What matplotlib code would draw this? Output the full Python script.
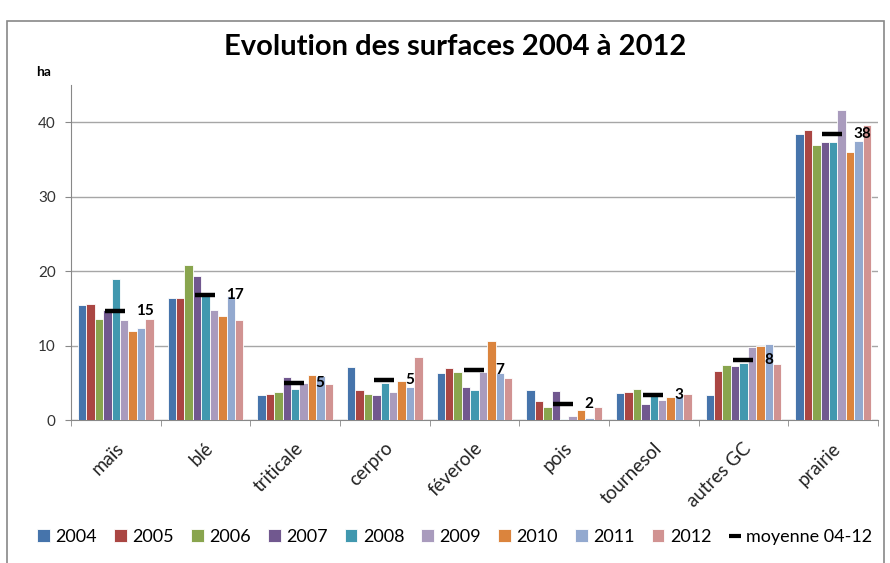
import matplotlib
matplotlib.use("Agg")
import matplotlib.pyplot as plt
import matplotlib.patches as mpatches
import matplotlib.transforms as mtransforms
from matplotlib.lines import Line2D
import numpy as np

plt.rcParams['font.family'] = ['Lato', 'DejaVu Sans']

categories = ["maïs", "blé", "triticale", "cerpro", "féverole", "pois", "tournesol", "autres GC", "prairie"]
years = ["2004", "2005", "2006", "2007", "2008", "2009", "2010", "2011", "2012"]

v2004 = [15.5, 16.4, 3.3, 7.1, 6.3, 4.0, 3.6, 3.4, 38.4]
v2005 = [15.6, 16.4, 3.5, 4.0, 7.0, 2.6, 3.7, 6.6, 38.9]
v2006 = [13.6, 20.8, 3.7, 3.5, 6.5, 1.7, 4.2, 7.4, 36.9]
v2007 = [14.8, 19.3, 5.8, 3.3, 4.4, 3.9, 2.2, 7.2, 37.4]
v2008 = [19.0, 16.7, 4.2, 5.0, 4.0, 0.2, 3.5, 7.6, 37.3]
v2009 = [13.5, 14.8, 5.0, 3.8, 6.5, 0.5, 2.7, 9.8, 41.7]
v2010 = [11.9, 14.0, 6.1, 5.3, 10.6, 1.3, 3.1, 9.9, 36.0]
v2011 = [12.4, 16.6, 5.9, 4.5, 6.3, 0.3, 3.2, 10.2, 37.5]
v2012 = [13.6, 13.5, 4.8, 8.4, 5.6, 1.7, 3.5, 7.5, 39.6]
moyenne = [14.7, 16.8, 5.0, 5.4, 6.7, 2.2, 3.4, 8.1, 38.4]

series = [v2004, v2005, v2006, v2007, v2008, v2009, v2010, v2011, v2012]
colors = ['#4674AB', '#AA4643', '#89A54E', '#71588F', '#4198AF',
          '#A99BBD', '#DB843D', '#93A9CF', '#D19392']

fig = plt.figure(figsize=(8.9, 5.63), dpi=100)
W, H = 890, 563
ax = fig.add_axes([71 / W, (H - 420) / H, 807 / W, 335 / H])

x = np.arange(len(categories))
bw = 0.094
for j, (vals, c) in enumerate(zip(series, colors)):
    ax.bar(x + (j - 4) * bw, vals, width=bw, color=c, edgecolor='white',
           linewidth=0.6, label=years[j], zorder=3)

ax.plot(x - 0.01, moyenne, linestyle='none', marker='_', markersize=15,
        markeredgewidth=3.2, color='black', zorder=5)
for xi, m in zip(x, moyenne):
    ax.text(xi + 0.23, m, f"{m:.0f}", fontsize=11, fontweight='bold',
            va='center', ha='left', zorder=6)

ax.set_xlim(-0.5, len(categories) - 0.5)
ax.set_ylim(0, 45)
ax.set_yticks([0, 10, 20, 30, 40])
ax.yaxis.grid(True, color='#A6A6A6', linewidth=1.0, zorder=0)
ax.set_axisbelow(True)
for s in ['top', 'right']:
    ax.spines[s].set_visible(False)
ax.spines['left'].set_color('#888888')
ax.spines['bottom'].set_color('#888888')
ax.tick_params(axis='y', length=4, color='#888888', labelsize=11,
               labelcolor='#333333', pad=7)

ax.set_xticks(x)
ax.set_xticklabels(categories, rotation=45, ha='right', rotation_mode='anchor',
                   fontsize=13.5, color='#222222')
ax.tick_params(axis='x', length=0, pad=14)
offset = mtransforms.ScaledTranslation(-1 / 100, 0, fig.dpi_scale_trans)
for lbl in ax.get_xticklabels():
    lbl.set_transform(lbl.get_transform() + offset)
ax.set_xticks(np.arange(-0.5, len(categories)), minor=True)
ax.tick_params(axis='x', which='minor', length=4, color='#888888')

fig.text(455 / W, 1 - 47 / H, "Evolution des surfaces 2004 à 2012",
         fontsize=21, fontweight='bold', ha='center', va='center')
fig.text(44 / W, 1 - 72 / H, "ha", fontsize=10, fontweight='bold',
         ha='center', va='center')

border = mpatches.Rectangle((7 / W, -0.1), 877 / W, 0.1 + (H - 21) / H,
                            transform=fig.transFigure, fill=False,
                            edgecolor='#888888', linewidth=1.2)
fig.patches.append(border)

handles, labels = ax.get_legend_handles_labels()
order = [labels.index(y) for y in years]
handles = [handles[i] for i in order]
labels = [labels[i] for i in order]
handles.append(Line2D([], [], linestyle='none', marker='_', markersize=8,
                      markeredgewidth=3, color='black'))
labels.append('moyenne 04-12')
leg = fig.legend(handles, labels, loc='center', bbox_to_anchor=(455 / W, 1 - 537 / H),
                 ncol=10, frameon=False, fontsize=13, handlelength=0.7,
                 handleheight=0.7, handletextpad=0.3, columnspacing=0.95,
                 borderaxespad=0)

fig.savefig("out.png", dpi=100)
